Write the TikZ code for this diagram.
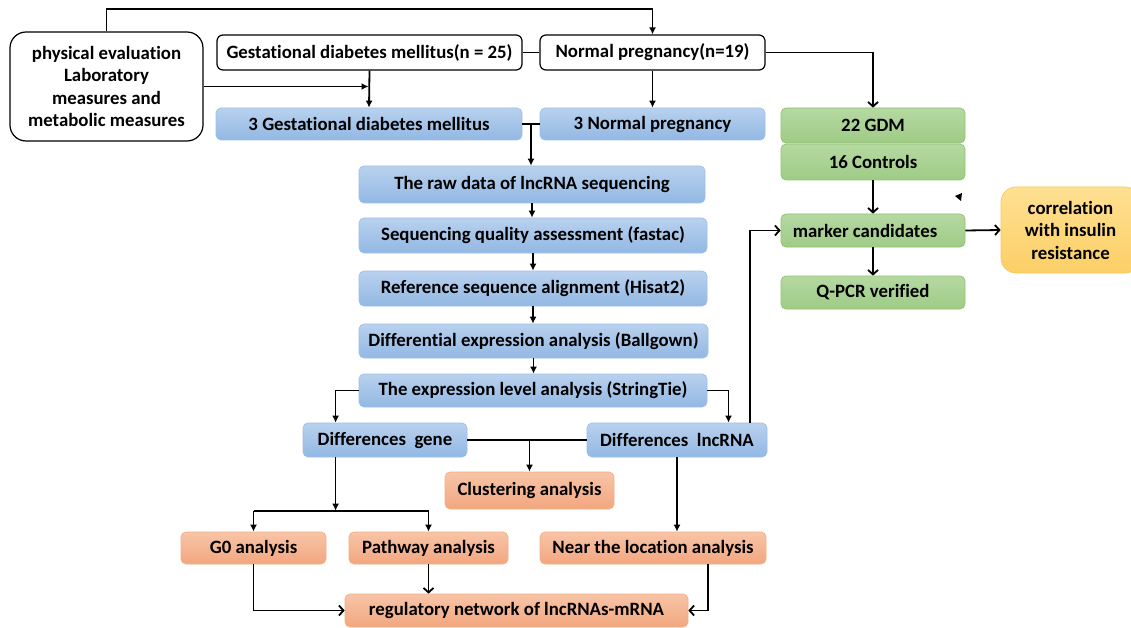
\documentclass[tikz,border=0pt]{standalone}
\usepackage{fontspec}
\setmainfont{Carlito}[Ligatures=NoCommon]
\usetikzlibrary{arrows.meta,calc}
\definecolor{blueT}{HTML}{B9D1EE}
\definecolor{blueB}{HTML}{92B8E3}
\definecolor{blueD}{HTML}{9DC0E8}
\definecolor{greenT}{HTML}{B5D9A2}
\definecolor{greenB}{HTML}{9FCB86}
\definecolor{greenD}{HTML}{8DC46F}
\definecolor{orangeT}{HTML}{F8C4A7}
\definecolor{orangeB}{HTML}{F2A77F}
\definecolor{orangeD}{HTML}{F4AE84}
\definecolor{yellowT}{HTML}{FEE092}
\definecolor{yellowB}{HTML}{FCCF66}
\definecolor{yellowD}{HTML}{FBC85A}
\begin{document}
\begin{tikzpicture}[x=1pt,y=-1pt,
  every node/.style={font=\bfseries\fontsize{18.8}{22.5}\selectfont, inner sep=0pt, align=center},
  base/.style={rectangle, rounded corners=5pt},
  whitebox/.style={base, draw=black, line width=1.2pt, fill=white, rounded corners=6pt},
  bluebox/.style={base, draw=blueD, line width=0.7pt, top color=blueT, bottom color=blueB},
  greenbox/.style={base, draw=greenD, line width=0.7pt, top color=greenT, bottom color=greenB},
  orangebox/.style={base, draw=orangeD, line width=0.7pt, top color=orangeT, bottom color=orangeB},
  yellowbox/.style={base, rounded corners=15pt, draw=yellowD, line width=0.7pt, top color=yellowT, bottom color=yellowB},
  ln/.style={line width=1.8pt, black},
  arr/.style={ln, -{Latex[length=7pt,width=7pt]}},
  arrv/.style={ln, -{Straight Barb[length=4.5pt,width=10pt]}}
]
\useasboundingbox (0,0) rectangle (1131,628);
\fill[white] (0,0) rectangle (1131,628);

% white boxes
\node[whitebox, rounded corners=16pt, minimum width=193pt, minimum height=109pt] (phys) at (106.5,86.5) {physical evaluation\\Laboratory\\measures and\\metabolic measures};
\node[whitebox, minimum width=305pt, minimum height=35pt] (gdm) at (369.5,52.5) {Gestational diabetes mellitus(n = 25)};
\node[whitebox, minimum width=225pt, minimum height=35pt] (np) at (652.5,52.5) {Normal pregnancy(n=19)};

% blue boxes
\node[bluebox, minimum width=306pt, minimum height=32pt] (gdm3) at (369,124) {3 Gestational diabetes mellitus};
\node[bluebox, minimum width=225pt, minimum height=32pt] (np3) at (652.5,124) {3 Normal pregnancy};
\node[bluebox, minimum width=346pt, minimum height=37pt] (raw) at (532,184.5) {The raw data of lncRNA sequencing};
\node[bluebox, minimum width=348pt, minimum height=35pt] (qual) at (533,235.5) {Sequencing quality assessment (fastac)};
\node[bluebox, minimum width=348pt, minimum height=35pt] (ref) at (533,288.5) {Reference sequence alignment (Hisat2)};
\node[bluebox, minimum width=349pt, minimum height=34pt] (diff) at (533.5,341) {Differential expression analysis (Ballgown)};
\node[bluebox, minimum width=348pt, minimum height=33pt] (expr) at (533,390.5) {The expression level analysis (StringTie)};
\node[bluebox, minimum width=164pt, minimum height=34pt] (dgene) at (385,440) {Differences\ \ gene};
\node[bluebox, minimum width=180pt, minimum height=34pt] (dlnc) at (677,440) {Differences\ \ lncRNA};

% green boxes
\node[greenbox, minimum width=184pt, minimum height=35pt] (g22) at (873,125.5) {22 GDM};
\node[greenbox, minimum width=184pt, minimum height=36pt] (c16) at (873,162) {16 Controls};
\node[greenbox, minimum width=184pt, minimum height=33pt] (marker) at (873,230.5) {marker candidates\hspace*{16pt}};
\node[greenbox, minimum width=184pt, minimum height=33pt] (qpcr) at (873,292.5) {Q-PCR verified};

% yellow box
\node[yellowbox, minimum width=139pt, minimum height=86pt] (corr) at (1070.5,230) {correlation\\with insulin\\resistance};

% orange boxes
\node[orangebox, minimum width=169pt, minimum height=37pt] (clust) at (529.5,490.5) {Clustering analysis};
\node[orangebox, minimum width=145pt, minimum height=32pt] (go) at (253.5,548) {G0 analysis};
\node[orangebox, minimum width=159pt, minimum height=32pt] (path) at (428.5,548) {Pathway analysis};
\node[orangebox, minimum width=226pt, minimum height=32pt] (near) at (653,548) {Near the location analysis};
\node[orangebox, minimum width=343pt, minimum height=33pt] (reg) at (516.5,610.5) {regulatory network of lncRNAs-mRNA};

% helper coordinates
\coordinate (top) at ([yshift=22pt]phys.north);
\coordinate (m1) at ($(gdm3.east)!0.5!(np3.west)$);
\coordinate (m2) at (clust.north |- dgene.east);
\coordinate (dgb) at ($(dgene.south west)!0.2!(dgene.south east)$);
\coordinate (dgt) at ($(dgene.north west)!0.2!(dgene.north east)$);
\coordinate (dlt1) at ($(dlnc.north west)!0.785!(dlnc.north east)$);
\coordinate (dlt2) at ($(dlnc.north west)!0.905!(dlnc.north east)$);
\coordinate (nb) at ($(near.south west)!0.743!(near.south east)$);
\coordinate (brL) at ([yshift=21pt]go.north);
\coordinate (brR) at ([yshift=21pt]path.north);

% connectors
\draw[arr] (phys.north) -- (top) -| (np.north);
\draw[ln] (gdm.east) -- (np.west);
\draw[arr] (phys.east) -- ([xshift=-1pt]gdm.south |- phys.east);
\draw[arr] (gdm.south) -- (gdm3.north);
\draw[arr] (np.south) -- (np3.north);
\draw[arrv] (np.east) -| (g22.north);
\draw[ln] (gdm3.east) -- (np3.west);
\draw[arr] (m1) -- (m1 |- raw.north);
\draw[arr] (raw.south) -- (raw.south |- qual.north);
\draw[arr] (qual.south) -- (qual.south |- ref.north);
\draw[arr] (ref.south) -- (ref.south |- diff.north);
\draw[arr] (diff.south) -- (diff.south |- expr.north);
\draw[arr] (expr.west) -| (dgt);
\draw[arr] (expr.east) -| (dlt1);
\draw[arrv] (dlt2) |- (marker.west);
\draw[ln] (dgene.east) -- (dlnc.west);
\draw[arr] (m2) -- (clust.north);
\draw[arr] (dgb) -- (dgb |- brL);
\draw[ln] (brL) -- (brR);
\draw[arr] (brL) -- (go.north);
\draw[arr] (brR) -- (path.north);
\draw[arr] (dlnc.south) -- (dlnc.south |- near.north);
\draw[arrv] (go.south) |- (reg.west);
\draw[arrv] (path.south) -- (path.south |- reg.north);
\draw[arrv] (nb) |- (reg.east);
\draw[arrv] (c16.south) -- (marker.north);
\draw[arrv] (marker.south) -- (qpcr.north);
\draw[arrv] (marker.east) -- (corr.west);

% stray arrowhead mark
\fill[black] (955,196) -- (962,193) -- (961,201) -- cycle;
\end{tikzpicture}
\end{document}
